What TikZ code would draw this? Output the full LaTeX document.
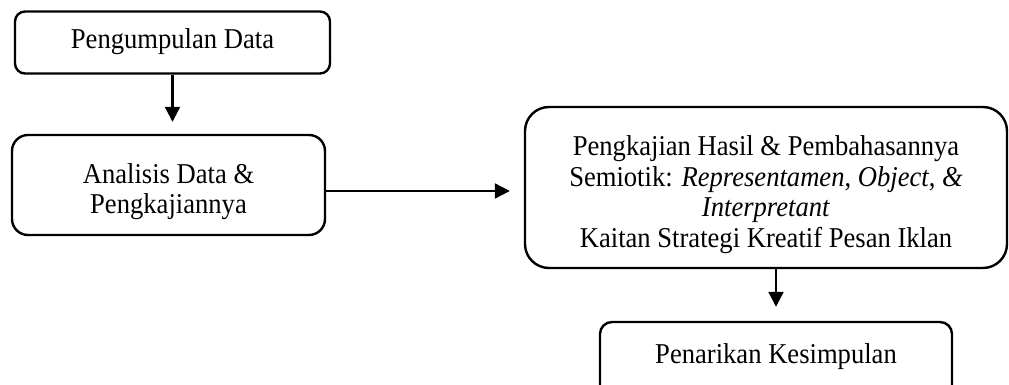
\documentclass[tikz,border=0pt]{standalone}
\usepackage{fontspec}
\usepackage{graphicx}
\setmainfont{Liberation Serif}
\usetikzlibrary{arrows.meta}
\newcommand\vtxt[1]{\scalebox{1}[1.08]{\begin{tabular}{@{}c@{}}#1\end{tabular}}}
\newcommand\shifted[2]{\raisebox{#1}[0pt][0pt]{\vtxt{#2}}}
\begin{document}
\begin{tikzpicture}[x=1pt,y=-1pt,
  box/.style={draw=black, line width=2.4pt, align=center, inner sep=0pt,
    font=\fontsize{26.6}{28.4}\selectfont},
  arr/.style={line width=2.2pt, -{Triangle[length=15pt,width=15pt]}}]
\useasboundingbox (0,0) rectangle (1009,385);
\clip (0,0) rectangle (1009,385);
\node[box, rounded corners=10pt, minimum width=315pt, minimum height=62pt] (top) at (172.5,42.5) {\vtxt{Pengumpulan Data}};
\node[box, rounded corners=16pt, minimum width=313pt, minimum height=100pt] (mid) at (168.5,185) {\shifted{-14pt}{Analisis Data \&\\Pengkajiannya}};
\node[box, rounded corners=24pt, minimum width=482pt, minimum height=161pt] (big) at (766,187.5) {\shifted{-14.5pt}{Pengkajian Hasil \& Pembahasannya\\Semiotik: \textit{Representamen}, \textit{Object}, \textit{\&}\\\textit{Interpretant}\\Kaitan Strategi Kreatif Pesan Iklan}};
\node[box, rounded corners=12pt, minimum width=352pt, minimum height=80pt] (bot) at (776,362) {\shifted{-2pt}{Penarikan Kesimpulan}};
\draw[arr, shorten >=12pt] (top.south) -- (top.south |- mid.north);
\draw[arr, shorten >=14pt] ([yshift=-6pt]mid.east) -- ([yshift=-6pt]mid.east -| big.west);
\draw[arr, shorten >=14pt] (bot.north |- big.south) -- (bot.north);
\end{tikzpicture}
\end{document}
